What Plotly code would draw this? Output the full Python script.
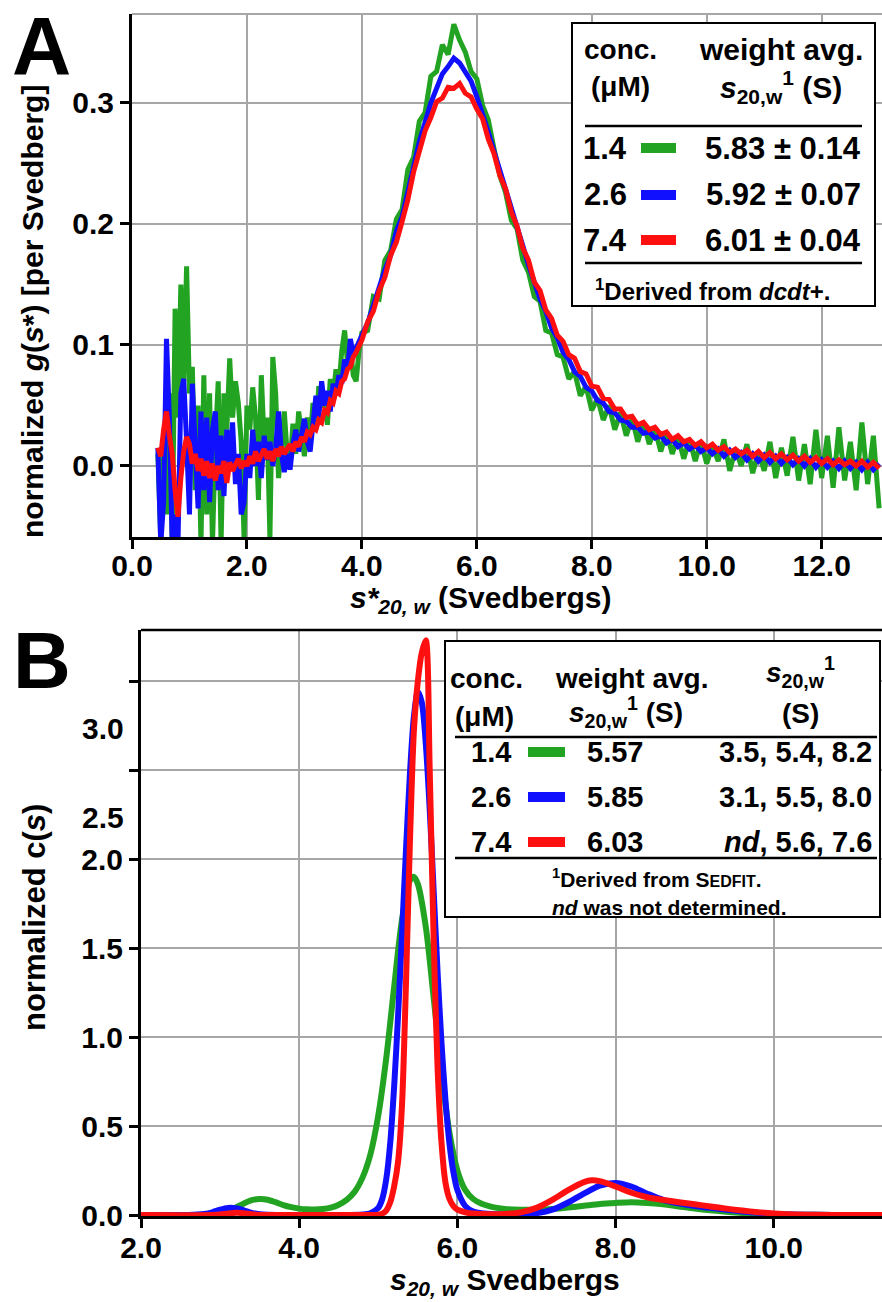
import plotly.graph_objects as go

# ---------------- data ----------------
conc_labels = ["1.4", "2.6", "7.4"]
series_colors = ["#22a322", "#1010ff", "#ff1010"]
wavg_A = ["5.83 ± 0.14", "5.92 ± 0.07", "6.01 ± 0.04"]
wavg_B = ["5.57", "5.85", "6.03"]
peaks_B = ["3.5, 5.4, 8.2", "3.1, 5.5, 8.0", "<i>nd</i>, 5.6, 7.6"]

# Panel A: s*20,w (Svedbergs) and normalized g(s*)
sA = [0.45, 0.5, 0.55, 0.6, 0.65, 0.7, 0.75, 0.8, 0.85, 0.9,
      0.95, 1.0, 1.05, 1.1, 1.15, 1.2, 1.25, 1.3, 1.35, 1.4,
      1.45, 1.5, 1.55, 1.6, 1.65, 1.7, 1.75, 1.8, 1.85, 1.9,
      1.95, 2.0, 2.05, 2.1, 2.15, 2.2, 2.25, 2.3, 2.35, 2.4,
      2.45, 2.5, 2.55, 2.6, 2.65, 2.7, 2.75, 2.8, 2.85, 2.9,
      2.95, 3.0, 3.05, 3.1, 3.15, 3.2, 3.25, 3.3, 3.35, 3.4,
      3.45, 3.5, 3.55, 3.6, 3.65, 3.7, 3.75, 3.8, 3.85, 3.9,
      3.95, 4.0,
      4.1, 4.2, 4.3, 4.4, 4.5, 4.6, 4.7, 4.8, 4.9, 5.0,
      5.1, 5.2, 5.3, 5.4, 5.5, 5.6, 5.7, 5.8, 5.9, 6.0,
      6.1, 6.2, 6.3, 6.4, 6.5, 6.6, 6.7, 6.8, 6.9, 7.0,
      7.1, 7.2, 7.3, 7.4, 7.5, 7.6, 7.7, 7.8, 7.9, 8.0,
      8.1, 8.2, 8.3, 8.4, 8.5, 8.6, 8.7, 8.8, 8.9, 9.0,
      9.1, 9.2, 9.3, 9.4, 9.5, 9.6, 9.7, 9.8, 9.9, 10.0,
      10.1, 10.2, 10.3, 10.4, 10.5, 10.6, 10.7, 10.8, 10.9, 11.0,
      11.1, 11.2, 11.3, 11.4, 11.5, 11.6, 11.7, 11.8, 11.9, 12.0,
      12.1, 12.2, 12.3, 12.4, 12.5, 12.6, 12.7, 12.8, 12.9, 13.0]

gA_green = [0.010, -0.060, 0.020, -0.040, 0.060, -0.065, 0.130, 0.040, 0.150, 0.070,
            0.165, 0.060, 0.082, -0.020, 0.050, -0.065, 0.075, -0.040, 0.060, -0.065,
            0.020, 0.070, -0.065, 0.060, 0.030, 0.089, 0.040, 0.070, 0.052, 0.020,
            -0.060, 0.050, 0.030, 0.065, 0.040, -0.028, 0.075, 0.020, 0.040, -0.060,
            0.090, 0.060, -0.010, 0.020, 0.045, 0.010, 0.000, 0.035, 0.010, 0.045,
            0.025, 0.008, 0.040, 0.022, 0.052, 0.030, 0.066, 0.048, 0.060, 0.034,
            0.072, 0.058, 0.080, 0.066, 0.095, 0.112, 0.085, 0.098, 0.075, 0.070,
            0.095, 0.110,
            0.112, 0.140, 0.138, 0.170, 0.178, 0.204, 0.212, 0.245, 0.255, 0.285,
            0.292, 0.322, 0.326, 0.348, 0.340, 0.365, 0.352, 0.342, 0.326, 0.320,
            0.298, 0.286, 0.262, 0.240, 0.226, 0.203, 0.196, 0.170, 0.160, 0.140,
            0.136, 0.112, 0.110, 0.092, 0.090, 0.072, 0.078, 0.058, 0.066, 0.046,
            0.056, 0.038, 0.050, 0.030, 0.044, 0.025, 0.040, 0.020, 0.036, 0.018,
            0.030, 0.012, 0.028, 0.010, 0.024, 0.006, 0.022, 0.004, 0.020, 0.002,
            0.016, 0.004, 0.022, -0.004, 0.014, 0.000, 0.018, -0.006, 0.012, -0.004,
            0.020, -0.010, 0.015, -0.008, 0.024, -0.012, 0.018, -0.015, 0.030, -0.010,
            0.025, -0.018, 0.032, -0.012, 0.020, -0.020, 0.036, -0.015, 0.025, -0.035]

gA_blue = [0.015, -0.065, -0.030, 0.105, 0.040, -0.065, -0.040, -0.065, 0.060, 0.072,
           0.020, -0.040, 0.068, 0.010, -0.035, 0.045, -0.020, 0.040, -0.030, 0.030,
           0.045, -0.020, 0.025, -0.025, 0.030, 0.000, 0.036, -0.015, 0.010, -0.040,
           -0.030, 0.010, -0.010, 0.030, 0.000, 0.020, -0.010, 0.025, 0.005, 0.020,
           0.000, 0.015, 0.045, 0.010, -0.005, 0.010, -0.003, 0.018, 0.030, 0.012,
           0.024, 0.039, 0.020, 0.012, 0.035, 0.058, 0.040, 0.070, 0.050, 0.062,
           0.045, 0.068, 0.060, 0.075, 0.068, 0.088, 0.080, 0.105, 0.092, 0.098,
           0.104, 0.108,
           0.118, 0.133, 0.145, 0.162, 0.174, 0.194, 0.206, 0.228, 0.248, 0.268,
           0.284, 0.300, 0.312, 0.324, 0.330, 0.337, 0.333, 0.326, 0.318, 0.305,
           0.292, 0.276, 0.260, 0.245, 0.228, 0.214, 0.197, 0.182, 0.166, 0.152,
           0.138, 0.128, 0.114, 0.106, 0.094, 0.088, 0.078, 0.074, 0.065, 0.062,
           0.054, 0.052, 0.045, 0.044, 0.038, 0.037, 0.032, 0.032, 0.027, 0.028,
           0.023, 0.025, 0.019, 0.022, 0.016, 0.019, 0.014, 0.017, 0.012, 0.015,
           0.010, 0.014, 0.008, 0.013, 0.007, 0.011, 0.005, 0.010, 0.004, 0.009,
           0.003, 0.008, 0.002, 0.007, 0.001, 0.006, 0.000, 0.006, -0.001, 0.005,
           -0.001, 0.004, -0.002, 0.004, -0.002, 0.003, -0.003, 0.003, -0.003, 0.002]

gA_red = [0.015, 0.008, 0.030, 0.045, 0.025, 0.010, -0.020, -0.042, -0.010, 0.012,
          0.024, 0.018, 0.002, 0.010, -0.004, 0.006, -0.008, 0.004, -0.010, 0.002,
          -0.012, 0.000, -0.006, 0.004, -0.014, 0.003, -0.004, 0.002, 0.006, -0.002,
          0.004, 0.000, 0.008, 0.002, 0.012, 0.004, 0.010, 0.014, 0.006, 0.012,
          0.004, 0.014, 0.008, 0.016, 0.010, 0.014, 0.018, 0.012, 0.020, 0.016,
          0.024, 0.020, 0.028, 0.026, 0.032, 0.030, 0.038, 0.036, 0.046, 0.044,
          0.054, 0.052, 0.062, 0.060, 0.070, 0.072, 0.080, 0.082, 0.090, 0.094,
          0.100, 0.104,
          0.119, 0.128, 0.145, 0.156, 0.174, 0.185, 0.202, 0.220, 0.243, 0.260,
          0.277, 0.288, 0.301, 0.304, 0.313, 0.312, 0.316, 0.308, 0.305, 0.295,
          0.287, 0.270, 0.258, 0.240, 0.229, 0.210, 0.198, 0.180, 0.170, 0.152,
          0.145, 0.129, 0.122, 0.108, 0.103, 0.092, 0.089, 0.078, 0.076, 0.066,
          0.065, 0.056, 0.055, 0.047, 0.047, 0.040, 0.041, 0.034, 0.036, 0.030,
          0.032, 0.026, 0.028, 0.022, 0.025, 0.020, 0.022, 0.017, 0.020, 0.015,
          0.018, 0.013, 0.016, 0.011, 0.014, 0.010, 0.013, 0.008, 0.012, 0.007,
          0.011, 0.006, 0.010, 0.005, 0.009, 0.004, 0.008, 0.003, 0.007, 0.002,
          0.006, 0.001, 0.005, 0.001, 0.004, 0.000, 0.004, -0.001, 0.003, -0.002]

# Panel B: s20,w (Svedbergs) and normalized c(s)
sB_green = [2.0, 2.5, 2.8, 2.9, 3.0, 3.1, 3.2, 3.3, 3.4, 3.5, 3.6, 3.7, 3.8, 3.9,
            4.0, 4.1, 4.2, 4.3, 4.4, 4.5, 4.6, 4.7, 4.8, 4.9, 5.0, 5.1, 5.2, 5.3,
            5.4, 5.45, 5.5, 5.6, 5.7, 5.8, 5.9, 6.0, 6.1, 6.2, 6.3, 6.4, 6.5, 6.6,
            6.8, 7.0, 7.2, 7.4, 7.6, 7.8, 8.0, 8.2, 8.4, 8.6, 8.8, 9.0, 9.2, 9.4,
            9.6, 9.8, 10.0, 10.5, 11.0, 11.4]
cB_green = [0.0, 0.0, 0.002, 0.005, 0.010, 0.022, 0.042, 0.065, 0.083, 0.090, 0.086, 0.072, 0.056, 0.044,
            0.036, 0.032, 0.031, 0.034, 0.042, 0.058, 0.085, 0.13, 0.21, 0.34, 0.56, 0.88, 1.28, 1.66,
            1.88, 1.90, 1.86, 1.62, 1.22, 0.80, 0.46, 0.25, 0.14, 0.09, 0.065, 0.05, 0.04, 0.034,
            0.030, 0.030, 0.034, 0.042, 0.052, 0.062, 0.068, 0.072, 0.068, 0.060, 0.048, 0.036, 0.026, 0.018,
            0.011, 0.007, 0.004, 0.001, 0.0, 0.0]

sB_blue = [2.0, 2.6, 2.8, 2.9, 3.0, 3.1, 3.2, 3.3, 3.4, 3.5, 3.6, 3.8, 4.0, 4.5, 4.8, 4.9,
           5.0, 5.05, 5.1, 5.15, 5.2, 5.25, 5.3, 5.35, 5.4, 5.45, 5.5, 5.55, 5.6, 5.65,
           5.7, 5.75, 5.8, 5.85, 5.9, 5.95, 6.0, 6.1, 6.2, 6.3, 6.5, 6.8,
           7.0, 7.2, 7.4, 7.6, 7.8, 8.0, 8.2, 8.4, 8.6, 8.8, 9.0, 9.2, 9.4, 9.6, 9.8,
           10.0, 10.2, 10.5, 11.0, 11.4]
cB_blue = [0.0, 0.0, 0.006, 0.015, 0.030, 0.040, 0.038, 0.026, 0.012, 0.004, 0.001, 0.0, 0.0, 0.0, 0.003, 0.010,
           0.040, 0.090, 0.20, 0.40, 0.72, 1.12, 1.58, 2.05, 2.48, 2.80, 2.94, 2.88, 2.65, 2.28,
           1.82, 1.36, 0.96, 0.64, 0.40, 0.24, 0.14, 0.05, 0.02, 0.01, 0.004, 0.003,
           0.010, 0.030, 0.070, 0.120, 0.165, 0.180, 0.160, 0.120, 0.085, 0.065, 0.050, 0.040, 0.030, 0.020, 0.012,
           0.006, 0.003, 0.001, 0.0, 0.0]

sB_red = [2.0, 2.9, 3.0, 3.1, 3.2, 3.3, 3.4, 3.5, 4.0, 4.9,
          5.0, 5.05, 5.1, 5.15, 5.2, 5.25, 5.3, 5.35, 5.4, 5.45, 5.5, 5.55, 5.6, 5.65,
          5.7, 5.75, 5.8, 5.85, 5.9, 5.95, 6.0, 6.1, 6.2,
          6.4, 6.6, 6.8, 7.0, 7.2, 7.4, 7.6, 7.7, 7.8,
          8.0, 8.2, 8.4, 8.6, 8.8, 9.0, 9.2, 9.4, 9.6, 9.8, 10.0, 10.2, 10.5, 11.0, 11.4]
cB_red = [0.0, 0.0, 0.003, 0.008, 0.012, 0.010, 0.004, 0.0, 0.0, 0.0,
          0.002, 0.008, 0.025, 0.07, 0.16, 0.30, 0.62, 1.30, 2.10, 2.72, 3.00, 3.16, 3.23, 2.50,
          1.55, 0.82, 0.40, 0.18, 0.09, 0.05, 0.03, 0.015, 0.008,
          0.004, 0.006, 0.015, 0.040, 0.085, 0.140, 0.185, 0.195, 0.190,
          0.160, 0.125, 0.100, 0.085, 0.072, 0.060, 0.048, 0.036, 0.025, 0.016, 0.009, 0.004, 0.001, 0.0, 0.0]

xticks_A = [0, 2, 4, 6, 8, 10, 12]
xticklabels_A = ["0.0", "2.0", "4.0", "6.0", "8.0", "10.0", "12.0"]
yticks_A = [0.0, 0.1, 0.2, 0.3]
yticklabels_A = ["0.0", "0.1", "0.2", "0.3"]
xticks_B = [2, 4, 6, 8, 10]
xticklabels_B = ["2.0", "4.0", "6.0", "8.0", "10.0"]
yticks_B = [0.0, 0.5, 1.0, 1.5, 2.0, 2.5, 3.0]
yticklabels_B = ["0.0", "0.5", "1.0", "1.5", "2.0", "", ""]
# labels drawn between the two upper ticks, as in the figure
upper_labels_B = [("2.5", 2.236), ("3.0", 2.736)]

assert len(sA) == len(gA_green) == len(gA_blue) == len(gA_red)
assert len(sB_green) == len(cB_green)
assert len(sB_blue) == len(cB_blue)
assert len(sB_red) == len(cB_red)

# ---------------- layout geometry (pixels) ----------------
W, H = 882, 1302
ML, MR, MT, MB = 132, 0, 14, 86
PW, PH = W - ML - MR, H - MT - MB


def PX(x):
    return (x - ML) / PW


def PY(y):
    return (H - MB - y) / PH


FONT = "Liberation Sans, Arial, Helvetica, sans-serif"
GRID = "#a6a6a6"

fig = go.Figure()
gA_all = [gA_green, gA_blue, gA_red]
for vals, col in zip(gA_all, series_colors):
    fig.add_trace(go.Scatter(x=sA, y=vals, mode="lines", xaxis="x", yaxis="y",
                             line=dict(color=col, width=5), showlegend=False))
for xs, ys, col in zip([sB_green, sB_blue, sB_red], [cB_green, cB_blue, cB_red], series_colors):
    fig.add_trace(go.Scatter(x=xs, y=ys, mode="lines", xaxis="x2", yaxis="y2",
                             line=dict(color=col, width=6, shape="spline", smoothing=0.8),
                             showlegend=False))

axis_common = dict(showline=True, linecolor="black", linewidth=3, ticks="outside",
                   ticklen=9, tickwidth=3, tickcolor="black", showgrid=True,
                   gridcolor=GRID, gridwidth=2, zeroline=False,
                   tickfont=dict(family=FONT, size=30, color="black", weight="bold"))

fig.update_layout(
    width=W, height=H, margin=dict(l=ML, r=MR, t=MT, b=MB),
    paper_bgcolor="white", plot_bgcolor="white",
    font=dict(family=FONT, color="black"),
    xaxis=dict(domain=[0, 1], range=[0, 13.05], anchor="y", tickvals=xticks_A,
               ticktext=xticklabels_A, ticklabelstandoff=-9, **axis_common),
    yaxis=dict(domain=[PY(537), 1], range=[-0.0587, 0.3735], anchor="x", tickvals=yticks_A,
               ticktext=yticklabels_A, **axis_common),
    xaxis2=dict(domain=[PX(141), 1], range=[2.0, 11.368], anchor="y2", tickvals=xticks_B,
                ticktext=xticklabels_B, ticklabelstandoff=-6, **axis_common),
    yaxis2=dict(domain=[0, PY(630)], range=[-0.0056, 3.287], anchor="x2", tickvals=yticks_B,
                ticktext=yticklabels_B, **axis_common),
)

shapes = []
# top frame lines
shapes.append(dict(type="line", xref="paper", yref="paper", x0=0, x1=1, y0=1, y1=1,
                   line=dict(color=GRID, width=2)))
shapes.append(dict(type="line", xref="paper", yref="paper", x0=PX(141), x1=1, y0=PY(630), y1=PY(630),
                   line=dict(color="black", width=2.5)))


def box(x0, y0, x1, y1):
    return dict(type="rect", xref="paper", yref="paper", x0=PX(x0), x1=PX(x1), y0=PY(y1), y1=PY(y0),
                fillcolor="white", line=dict(color="black", width=2), layer="above")


def hline(x0, x1, y, col="black", w=2.5):
    return dict(type="line", xref="paper", yref="paper", x0=PX(x0), x1=PX(x1), y0=PY(y), y1=PY(y),
                line=dict(color=col, width=w), layer="above")


# legend A
shapes.append(box(572, 23, 875, 306))
shapes.append(hline(585, 862, 126))
shapes.append(hline(585, 862, 263))
rowsA = [148, 195, 240]
for y, col in zip(rowsA, series_colors):
    shapes.append(hline(641, 676, y, col, 10))
# legend B
shapes.append(box(445, 641, 880, 917))
shapes.append(hline(455, 877, 737))
shapes.append(hline(455, 877, 858))
rowsB = [752, 797, 842]
for y, col in zip(rowsB, series_colors):
    shapes.append(hline(528, 565, y, col, 10))
fig.update_layout(shapes=shapes)

ann = []


def txt(text, x, y, size, xanchor="center", angle=0, bold=True):
    ann.append(dict(text=text, xref="paper", yref="paper", x=PX(x), y=PY(y), xanchor=xanchor,
                    yanchor="middle", showarrow=False, textangle=angle,
                    font=dict(family=FONT, size=size, color="black",
                              weight="bold" if bold else "normal")))


# panel letters
txt("A", 41, 46, 82)
txt("B", 42, 660, 80)
# axis titles
txt("normalized <i>g</i>(<i>s</i>*) [per Svedberg]", 32, 312, 30, angle=-90)
txt("<i>s*<sub>20, w</sub></i> (Svedbergs)", 480, 599, 30)
txt("normalized c(<i>s</i>)", 34, 918, 31, angle=-90)
txt("<i>s<sub>20, w</sub></i> Svedbergs", 505, 1281, 30)

# B upper tick labels
for lab, val in upper_labels_B:
    ann.append(dict(text=lab, xref="paper", yref="y2", x=PX(126), y=val, xanchor="right",
                    yanchor="middle", showarrow=False,
                    font=dict(family=FONT, size=30, color="black", weight="bold")))

# legend A text
txt("conc.", 620, 50, 28)
txt("(μM)", 620, 87, 28)
txt("weight avg.", 781, 50, 30)
txt("<i>s</i><sub>20,w</sub><sup>1</sup> (S)", 781, 87, 30)
for y, c, v in zip(rowsA, conc_labels, wavg_A):
    txt(c, 629, y, 31, xanchor="right")
    txt(v, 783, y, 31)
txt("<sup>1</sup>Derived from <i>dcdt</i>+.", 712, 290, 24)

# legend B text
txt("conc.", 486, 678, 28)
txt("(μM)", 484, 717, 28)
txt("weight avg.", 631, 678, 28)
txt("<i>s</i><sub>20,w</sub><sup>1</sup> (S)", 626, 712, 28)
txt("<i>s</i><sub>20,w</sub><sup>1</sup>", 800, 672, 28)
txt("(S)", 800, 714, 28)
for y, c, v, p in zip(rowsB, conc_labels, wavg_B, peaks_B):
    txt(c, 513, y, 29, xanchor="right")
    txt(v, 615, y, 29)
    txt(p, 874, y, 29, xanchor="right")
txt("<sup>1</sup>Derived from S<span style='font-size:16px'>EDFIT</span>.", 657, 878, 21)
txt("<i>nd</i> was not determined.", 669, 907, 21)

fig.update_layout(annotations=ann)
fig.write_html("out.html", config={"displayModeBar": False},
               post_script="document.body.style.margin='0';document.body.style.padding='0';")
